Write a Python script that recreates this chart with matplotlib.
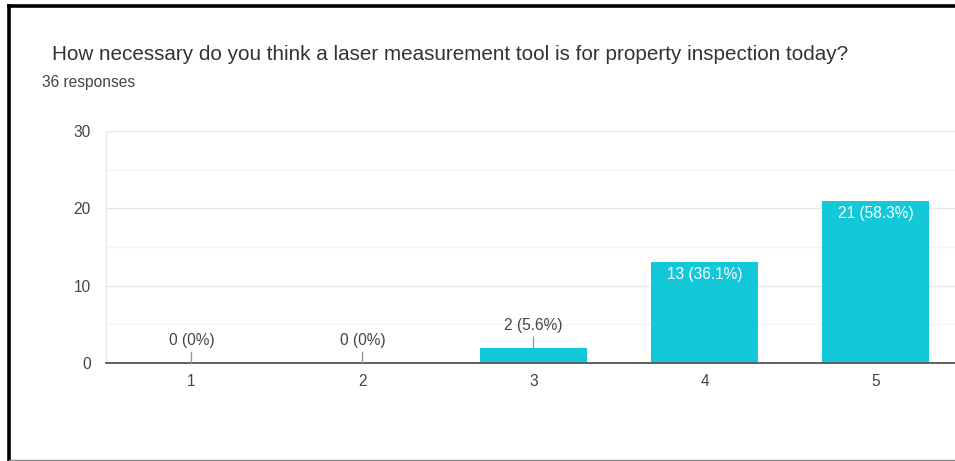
import matplotlib
matplotlib.use("Agg")
import matplotlib.pyplot as plt
from matplotlib.lines import Line2D

plt.rcParams['font.family'] = ['Liberation Sans', 'DejaVu Sans']

title = "How necessary do you think a laser measurement tool is for property inspection today?"
subtitle = "36 responses"
categories = ["1", "2", "3", "4", "5"]
counts = [0, 0, 2, 13, 21]
labels = ["0 (0%)", "0 (0%)", "2 (5.6%)", "13 (36.1%)", "21 (58.3%)"]

bar_color = "#13c8d8"
text_color = "#444444"

fig = plt.figure(figsize=(9.55, 4.61), dpi=100)
ax = fig.add_axes([106 / 955, 98 / 461, 849 / 955, 232 / 461])

x = list(range(1, len(categories) + 1))
ax.bar(x, counts, width=0.62, color=bar_color, zorder=3)

ax.set_xlim(0.5, 0.5 + 849 / 171)
ax.set_ylim(0, 30)
ax.set_yticks([0, 10, 20, 30])
ax.set_yticks([5, 15, 25], minor=True)
ax.set_xticks(x)
ax.set_xticklabels(categories)
ax.grid(axis='y', which='major', color='#e8e8e8', linewidth=1, zorder=0)
ax.grid(axis='y', which='minor', color='#f4f4f4', linewidth=1, zorder=0)
ax.tick_params(axis='both', which='both', length=0, labelsize=11.2, colors=text_color)
ax.tick_params(axis='y', pad=11)
ax.tick_params(axis='x', pad=8)

for s in ['top', 'right']:
    ax.spines[s].set_visible(False)
ax.spines['left'].set_color('#e8e8e8')
ax.spines['bottom'].set_color('#555555')
ax.spines['bottom'].set_linewidth(1.3)
ax.spines['bottom'].set_zorder(4)

for xi, c, lab in zip(x, counts, labels):
    if c >= 5:
        ax.annotate(lab, (xi, c), xytext=(0, -9), textcoords='offset points',
                    ha='center', va='center', fontsize=11.2, color='white', zorder=5)
    else:
        ax.annotate(lab, (xi, c), xytext=(0, 16), textcoords='offset points',
                    ha='center', va='center', fontsize=11.2, color=text_color, zorder=5,
                    arrowprops=dict(arrowstyle='-', color='#999999', lw=1,
                                    shrinkA=1, shrinkB=0))

fig.text(52 / 955, 1 - 55 / 461, title, fontsize=14.9, color='#333333',
         ha='left', va='center')
fig.text(42 / 955, 1 - 82 / 461, subtitle, fontsize=11.2, color=text_color,
         ha='left', va='center')

# frame lines of the screenshot
fig.add_artist(Line2D([9 / 955, 1], [1 - 6.5 / 461] * 2, color='black', lw=2.6))
fig.add_artist(Line2D([9 / 955] * 2, [0, 1 - 6.5 / 461], color='black', lw=2.6))
fig.add_artist(Line2D([9 / 955, 1], [1.5 / 461] * 2, color='#888888', lw=1))

fig.savefig("out.png", dpi=100)
